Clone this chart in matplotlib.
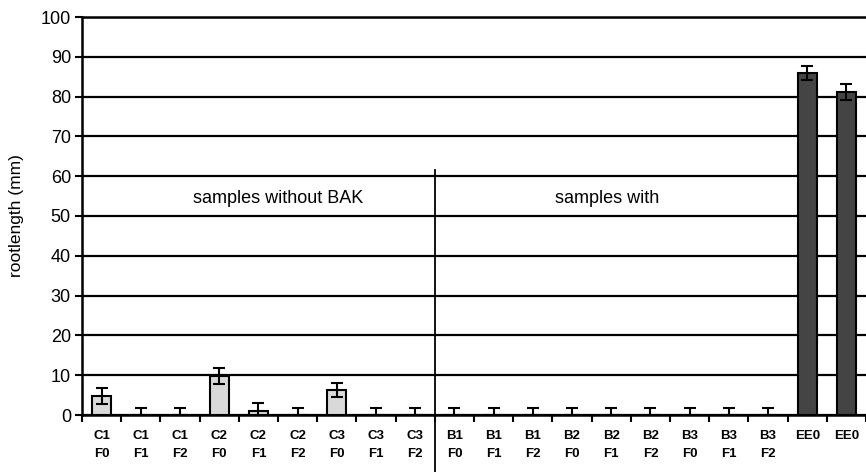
import numpy as np
import matplotlib.pyplot as plt

plt.rcParams['font.family'] = ['Liberation Sans', 'DejaVu Sans']

# data
labels = ['C1\nF0', 'C1\nF1', 'C1\nF2', 'C2\nF0', 'C2\nF1', 'C2\nF2', 'C3\nF0', 'C3\nF1', 'C3\nF2',
          'B1\nF0', 'B1\nF1', 'B1\nF2', 'B2\nF0', 'B2\nF1', 'B2\nF2', 'B3\nF0', 'B3\nF1', 'B3\nF2',
          'EE0', 'EE0']
values = [4.8, 0, 0, 9.9, 1.0, 0, 6.3, 0, 0,
          0, 0, 0, 0, 0, 0, 0, 0, 0,
          85.9, 81.2]
errors = [2.0, 1.7, 1.7, 2.0, 2.0, 1.7, 1.8, 1.7, 1.7,
          1.7, 1.7, 1.7, 1.7, 1.7, 1.7, 1.7, 1.7, 1.7,
          1.8, 2.0]
groups = ['C'] * 9 + ['B'] * 9 + ['E'] * 2
group_colors = {'C': '#d9d9d9', 'B': '#d9d9d9', 'E': '#444444'}

fig = plt.figure(figsize=(8.66, 4.72), dpi=100)
ax = fig.add_axes([82 / 866, 1 - 415 / 472, (866 - 82) / 866, 398 / 472])

x = np.arange(len(labels))
colors = [group_colors[g] for g in groups]
ax.bar(x, values, width=0.48, color=colors, edgecolor='black', linewidth=1.5, zorder=3)
ax.errorbar(x, values, yerr=errors, fmt='none', ecolor='black', elinewidth=1.5,
            capsize=4, capthick=1.5, zorder=4)

ax.set_xlim(-0.5, len(labels) - 0.5)
ax.set_ylim(0, 100)
ax.set_yticks(np.arange(0, 101, 10))
ax.yaxis.grid(True, color='black', linewidth=1.6, zorder=1)
ax.set_axisbelow(True)

ax.set_xticks(x)
ax.set_xticklabels(labels, fontsize=9.5, fontweight='bold', linespacing=1.6)
ax.set_xticks(np.arange(-0.5, len(labels), 1), minor=True)
ax.tick_params(axis='x', which='major', length=0, pad=11)
ax.tick_params(axis='x', which='minor', length=5, width=1.5, direction='out')
ax.tick_params(axis='y', length=5, width=1.5, labelsize=13, pad=3)

for s in ['left', 'bottom', 'top']:
    ax.spines[s].set_linewidth(1.8)
ax.spines['right'].set_visible(False)

ax.set_ylabel('rootlength (mm)', fontsize=12.5, labelpad=12)

# separator between the two groups of samples
ax.plot([8.5, 8.5], [-15, 61.5], color='black', linewidth=1.3, clip_on=False, zorder=5)

ax.text(4.5, 54.5, 'samples without BAK', ha='center', va='center', fontsize=13)
ax.text(12.9, 54.5, 'samples with', ha='center', va='center', fontsize=13)

fig.savefig('out.png', dpi=100)
